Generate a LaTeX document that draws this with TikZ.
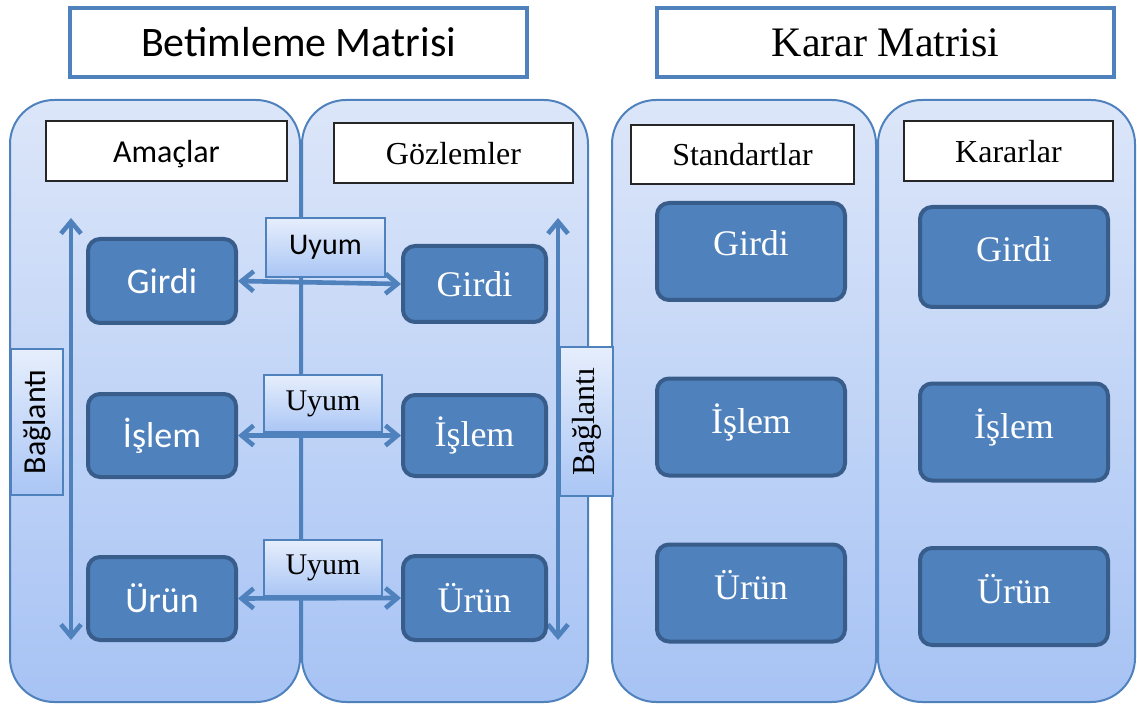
\documentclass[tikz,border=0pt]{standalone}
\usepackage{fontspec}
\setmainfont{Liberation Serif}
\newfontfamily\calfont{Carlito}
\usetikzlibrary{arrows.meta}
\definecolor{kenar}{HTML}{4F81BD}
\definecolor{koyu}{HTML}{385D8A}
\definecolor{acik}{HTML}{DCE6F9}
\definecolor{orta}{HTML}{A7C3F4}
\definecolor{uyumust}{HTML}{E6EEFC}
\definecolor{uyumalt}{HTML}{AAC6F5}

\begin{document}
\begin{tikzpicture}[x=0.5pt, y=-0.5pt]
\tikzset{baslik/.style={draw=kenar, line width=2pt, fill=white, inner sep=0pt, font=\fontsize{21}{25}\selectfont},
sutun/.style={draw=kenar, line width=1pt, rounded corners=22pt, top color=acik, bottom color=orta, inner sep=0pt},
etiket/.style={draw=black!85, line width=0.7pt, fill=white, inner sep=0pt, text depth=0pt, font=\fontsize{16}{19}\selectfont},
adim/.style={draw=koyu, line width=2pt, fill=kenar, rounded corners=6pt, text=white, inner sep=0pt, font=\fontsize{18}{21}\selectfont},
buyukadim/.style={adim, minimum width=94pt, minimum height=48.5pt, text depth=8pt},
uyum/.style={draw=kenar, line width=0.8pt, top color=uyumust, bottom color=uyumalt, inner sep=0pt, minimum height=28.5pt, font=\fontsize{15}{18}\selectfont},
bag/.style={draw=kenar, line width=0.8pt, top color=uyumust, bottom color=uyumalt, inner sep=0pt, rotate=90, font=\fontsize{16}{19}\selectfont},
ok/.style={draw=kenar, line width=2.3pt, {Straight Barb[length=6pt,width=10pt]}-{Straight Barb[length=6pt,width=10pt]}}}
\useasboundingbox (0,0) rectangle (1137,706);
% sutunlar
\node[sutun, minimum width=145pt, minimum height=301pt] (S1) at (155,401) {};
\node[sutun, minimum width=143pt, minimum height=301pt] (S2) at (445,401) {};
\node[sutun, minimum width=132pt, minimum height=301pt] (S3) at (744,401) {};
\node[sutun, minimum width=128.5pt, minimum height=301pt] (S4) at (1006.5,401) {};
% etiketler
\node[etiket, minimum width=120.5pt, minimum height=30pt] (E1) at (166.5,151) {\calfont Amaçlar};
\node[etiket, minimum width=119.5pt, minimum height=30pt] (E2) at (453.5,153) {Gözlemler};
\node[etiket, minimum width=111.5pt, minimum height=29.5pt] (E3) at (742.5,154.5) {Standartlar};
\node[etiket, minimum width=104.5pt, minimum height=30pt] (E4) at (1008.5,151) {Kararlar};
% baglanti oklari
\coordinate (L1) at (71,218);
\coordinate (L2) at (71,640);
\coordinate (R1) at (558,218);
\coordinate (R2) at (558,640);
\draw[ok] (L1) -- (L2);
\draw[ok] (R1) -- (R2);
\node[bag, minimum width=73pt, minimum height=26pt] (B1) at (37,422) {\calfont Bağlantı};
\node[bag, minimum width=74.5pt, minimum height=26.5pt] (B2) at (586.5,421.5) {Bağlantı};
% amaclar ve gozlemler
\node[adim, minimum width=74pt, minimum height=42pt] (G1) at (162,281) {\calfont Girdi};
\node[adim, minimum width=74pt, minimum height=41.5pt] (I1) at (162,435.5) {\calfont İşlem};
\node[adim, minimum width=74pt, minimum height=41.5pt] (U1) at (162,598.5) {\calfont Ürün};
\node[adim, minimum width=71.5pt, minimum height=38pt] (G2) at (474.5,284) {Girdi};
\node[adim, minimum width=71.5pt, minimum height=40.5pt] (I2) at (474.5,435.5) {İşlem};
\node[adim, minimum width=71.5pt, minimum height=42pt] (U2) at (474.5,598) {Ürün};
% standartlar ve kararlar
\node[buyukadim] (G3) at (751,251.5) {Girdi};
\node[buyukadim] (I3) at (751,427) {İşlem};
\node[buyukadim] (U3) at (751,593) {Ürün};
\node[buyukadim, minimum height=50pt] (G4) at (1014,257) {Girdi};
\node[buyukadim] (I4) at (1014,432) {İşlem};
\node[buyukadim] (U4) at (1014,596.5) {Ürün};
% uyum
\draw[ok] (G1.east) -- (G2.west);
\draw[ok] (I1.east) -- (I2.west);
\draw[ok] (U1.east) -- (U2.west);
\node[uyum, minimum width=59.5pt, minimum height=29.5pt] (Y1) at (325.5,247.5) {\calfont Uyum};
\node[uyum, minimum width=59pt] (Y2) at (323,403.5) {Uyum};
\node[uyum, minimum width=59pt, minimum height=28pt] (Y3) at (323,568) {Uyum};
% basliklar
\node[baslik, minimum width=228.5pt, minimum height=34.5pt] (T1) at (298.5,42.5) {\calfont Betimleme Matrisi};
\node[baslik, minimum width=228.5pt, minimum height=34.5pt] (T2) at (885.5,42.5) {Karar Matrisi};
\end{tikzpicture}
\end{document}
